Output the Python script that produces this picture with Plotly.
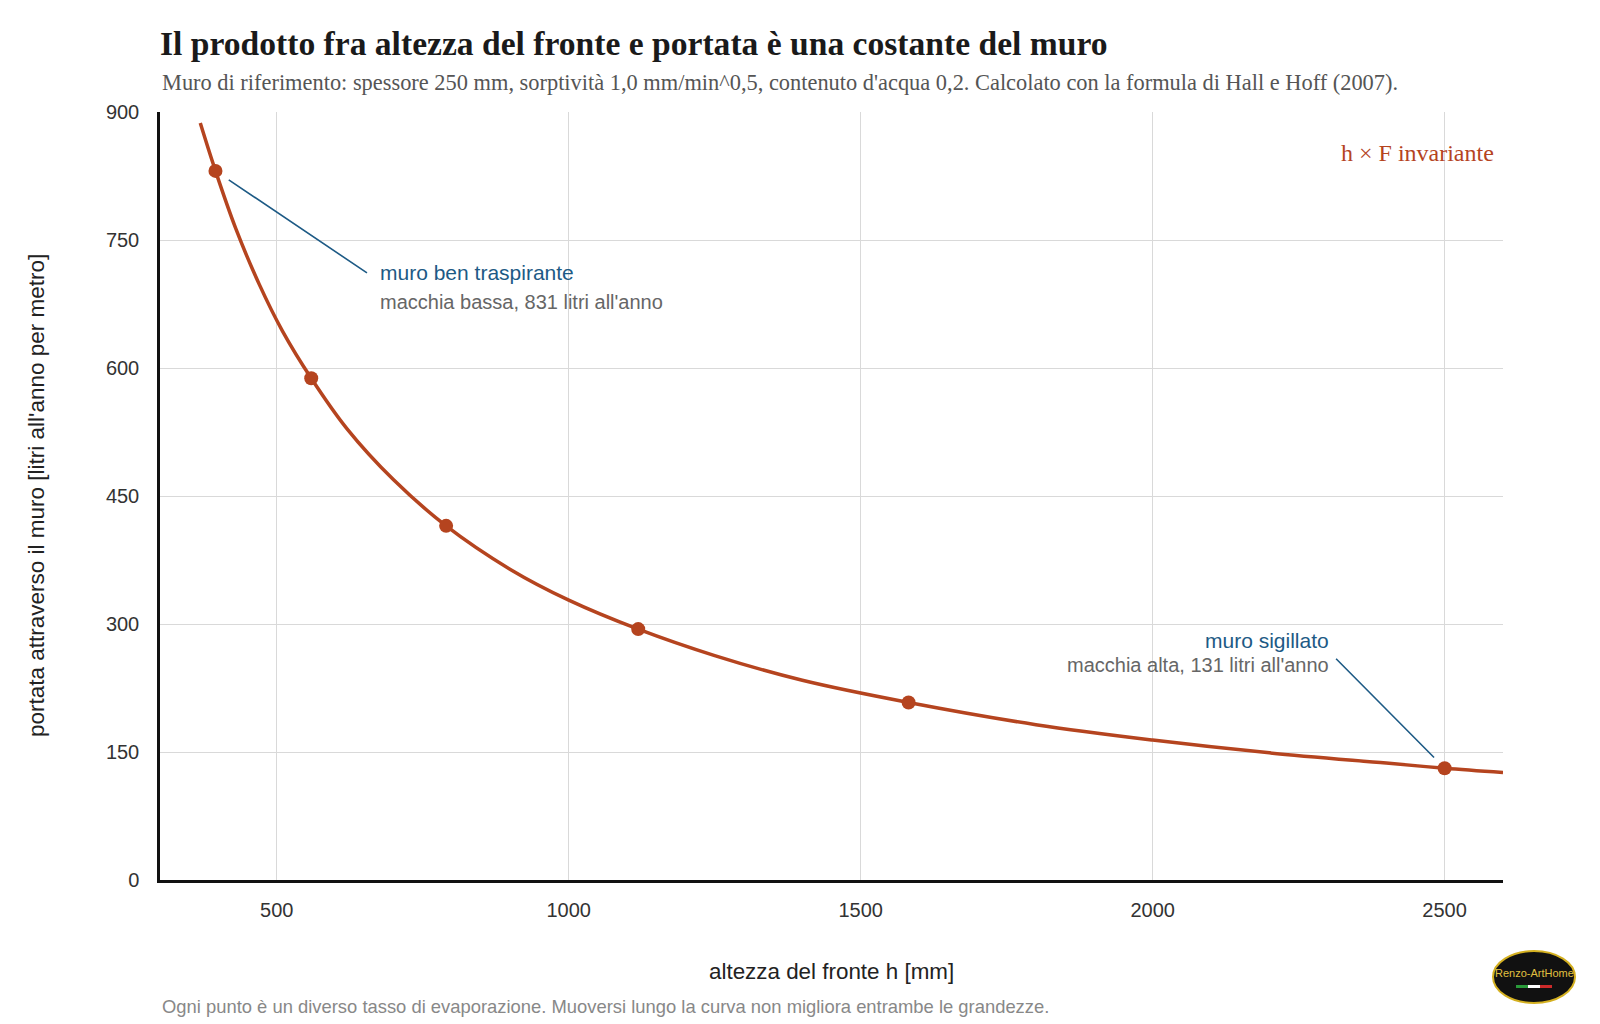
import plotly.graph_objects as go

# Curve (altezza h [mm], portata F [l/anno/m])
h_curve = [369, 395, 430, 470, 510, 559, 620, 700, 790, 900, 1000, 1119, 1250, 1400,
           1582, 1800, 2000, 2200, 2400, 2500, 2600]
F_curve = [887, 831, 763, 698, 643, 588, 529, 469, 415, 364, 328, 294, 263, 234,
           208, 182, 164, 149, 137, 131, 126]

# Marked points
h_points = [395, 559, 790, 1119, 1582, 2500]
F_points = [831, 588, 415, 294, 208, 131]

x_ticks = [500, 1000, 1500, 2000, 2500]
y_ticks = [0, 150, 300, 450, 600, 750, 900]

RUST = "#b5441f"
BLUE = "#1d5a85"
GRAY = "#666666"
SANS = "Liberation Sans, Arial, sans-serif"
SERIF = "Liberation Serif, Times New Roman, serif"

L, R, T, B = 160, 97, 112, 144
W, H = 1600, 1024
PW, PH = W - L - R, H - T - B


def px(x):
    return (x - L) / PW


def py(y):
    return (H - B - y) / PH


fig = go.Figure()
fig.add_trace(go.Scatter(x=h_curve, y=F_curve, mode="lines",
                         line=dict(color=RUST, width=3.5, shape="spline"),
                         hoverinfo="skip", showlegend=False))
fig.add_trace(go.Scatter(x=h_points, y=F_points, mode="markers",
                         marker=dict(color=RUST, size=14),
                         showlegend=False))

ann = []
ann.append(dict(x=0, y=py(82), xref="paper", yref="paper", xanchor="left", yanchor="middle",
                text="Muro di riferimento: spessore 250 mm, sorptività 1,0 mm/min^0,5, contenuto d'acqua 0,2. Calcolato con la formula di Hall e Hoff (2007).",
                showarrow=False, font=dict(family=SERIF, size=22.4, color="#555555")))
ann.append(dict(x=px(1496), y=py(153), xref="paper", yref="paper", xanchor="right", yanchor="middle",
                text="h × F invariante", showarrow=False,
                font=dict(family=SERIF, size=24, color=RUST)))
ann.append(dict(x=0.5, y=py(971), xref="paper", yref="paper", xanchor="center", yanchor="middle",
                text="altezza del fronte h [mm]", showarrow=False,
                font=dict(family=SANS, size=22.4, color="#222222")))
ann.append(dict(x=px(36), y=0.5, xref="paper", yref="paper", xanchor="center", yanchor="middle",
                text="portata attraverso il muro [litri all'anno per metro]", textangle=-90,
                showarrow=False, font=dict(family=SANS, size=22.5, color="#222222")))
ann.append(dict(x=0, y=py(1006), xref="paper", yref="paper", xanchor="left", yanchor="middle",
                text="Ogni punto è un diverso tasso di evaporazione. Muoversi lungo la curva non migliora entrambe le grandezze.",
                showarrow=False, font=dict(family=SANS, size=18.4, color="#888888")))
ann.append(dict(x=h_points[0], y=F_points[0], xref="x", yref="y", text="", showarrow=True,
                axref="pixel", ayref="pixel", ax=153, ay=103, arrowhead=0, arrowwidth=1.6,
                arrowcolor=BLUE, standoff=16))
ann.append(dict(x=px(378), y=py(272), xref="paper", yref="paper", xanchor="left", yanchor="middle",
                text="muro ben traspirante", showarrow=False,
                font=dict(family=SANS, size=21, color=BLUE)))
ann.append(dict(x=px(378), y=py(302), xref="paper", yref="paper", xanchor="left", yanchor="middle",
                text="macchia bassa, 831 litri all'anno", showarrow=False,
                font=dict(family=SANS, size=20, color=GRAY)))
ann.append(dict(x=h_points[-1], y=F_points[-1], xref="x", yref="y", text="", showarrow=True,
                axref="pixel", ayref="pixel", ax=-110, ay=-111, arrowhead=0, arrowwidth=1.6,
                arrowcolor=BLUE, standoff=15))
ann.append(dict(x=px(1331), y=py(640), xref="paper", yref="paper", xanchor="right", yanchor="middle",
                text="muro sigillato", showarrow=False,
                font=dict(family=SANS, size=21, color=BLUE)))
ann.append(dict(x=px(1331), y=py(665), xref="paper", yref="paper", xanchor="right", yanchor="middle",
                text="macchia alta, 131 litri all'anno", showarrow=False,
                font=dict(family=SANS, size=20, color=GRAY)))
ann.append(dict(x=px(1534), y=py(973), xref="paper", yref="paper", xanchor="center", yanchor="middle",
                text="Renzo-ArtHome", showarrow=False,
                font=dict(family="Liberation Sans Narrow, Liberation Sans, sans-serif", size=11, color="#e0c040")))

shapes = [
    dict(type="circle", xref="paper", yref="paper", x0=px(1493), x1=px(1575), y0=py(951), y1=py(1003),
         fillcolor="#111111", line=dict(color="#d4b020", width=2), layer="above"),
    dict(type="rect", xref="paper", yref="paper", x0=px(1516), x1=px(1528), y0=py(988), y1=py(985),
         fillcolor="#2a9a3a", line=dict(width=0), layer="above"),
    dict(type="rect", xref="paper", yref="paper", x0=px(1528), x1=px(1540), y0=py(988), y1=py(985),
         fillcolor="#ffffff", line=dict(width=0), layer="above"),
    dict(type="rect", xref="paper", yref="paper", x0=px(1540), x1=px(1552), y0=py(988), y1=py(985),
         fillcolor="#cc2a2a", line=dict(width=0), layer="above"),
]

fig.update_layout(
    width=W, height=H,
    margin=dict(l=L, r=R, t=T, b=B),
    paper_bgcolor="white", plot_bgcolor="white",
    title=dict(text="<b>Il prodotto fra altezza del fronte e portata è una costante del muro</b>",
               x=0, xref="paper", xanchor="left", y=1 - 43 / H, yref="container", yanchor="middle",
               font=dict(family=SERIF, size=33.6, color="#1a1a1a")),
    annotations=ann,
    shapes=shapes,
    showlegend=False,
)
fig.update_xaxes(range=[300, 2600], tickvals=x_ticks, showgrid=True, gridcolor="#d9d9d9", gridwidth=1,
                 showline=True, linecolor="#111111", linewidth=2.5, zeroline=False,
                 tickfont=dict(family=SANS, size=20, color="#333333"), ticks="", ticklabelstandoff=10)
fig.update_yaxes(range=[0, 900], tickvals=y_ticks, showgrid=True, gridcolor="#d9d9d9", gridwidth=1,
                 showline=True, linecolor="#111111", linewidth=2.5, zeroline=False,
                 tickfont=dict(family=SANS, size=20, color="#333333"), ticks="", ticklabelstandoff=14)

fig.write_html("out.html")
